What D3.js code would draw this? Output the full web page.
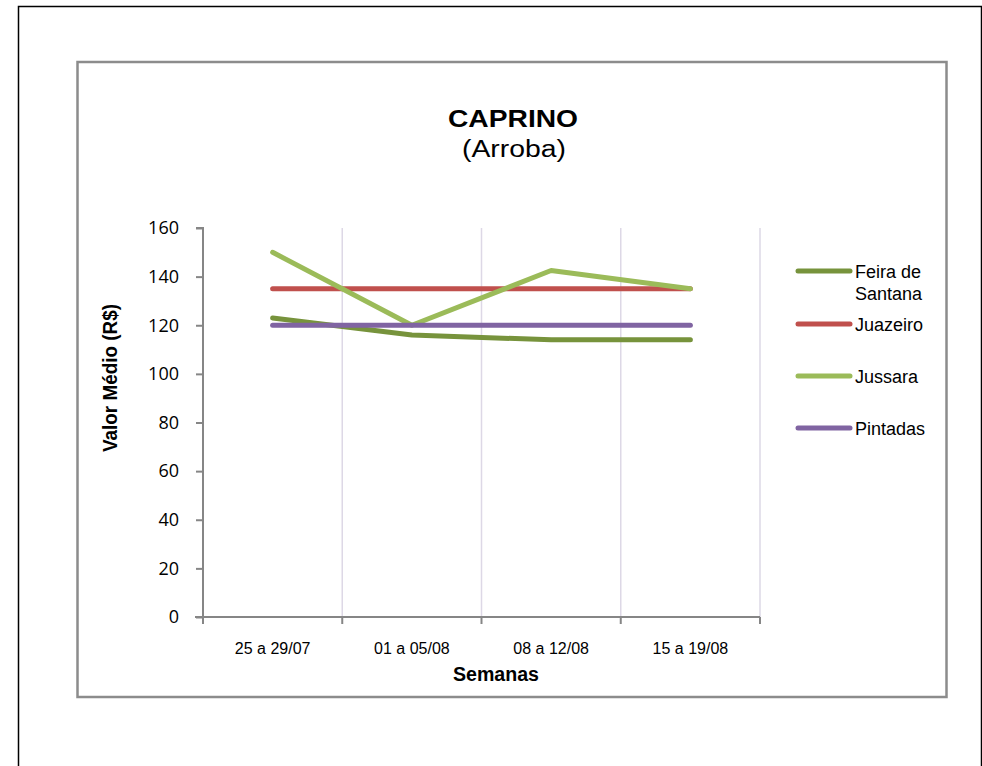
<!DOCTYPE html>
<html>
<head>
<meta charset="utf-8">
<script src="https://cdn.jsdelivr.net/npm/d3@7"></script>
<style>
  body { margin: 0; background: #fff; }
  svg { display: block; font-family: "Liberation Sans", Arial, sans-serif; }
</style>
</head>
<body>
<svg id="chart" width="982" height="766"></svg>
<script>
// data
let semanas = ['25 a 29/07', '01 a 05/08', '08 a 12/08', '15 a 19/08'];
let feira = [123, 116, 114, 114];
let juazeiro = [135, 135, 135, 135];
let jussara = [150, 120, 142.5, 135];
let pintadas = [120, 120, 120, 120];
let yTicks = [0, 20, 40, 60, 80, 100, 120, 140, 160];

let series = [
  {name: ['Feira de', 'Santana'], values: feira, color: '#77933c'},
  {name: ['Juazeiro'], values: juazeiro, color: '#c0504d'},
  {name: ['Jussara'], values: jussara, color: '#9bbb59'},
  {name: ['Pintadas'], values: pintadas, color: '#8064a2'}
];

let svg = d3.select('#chart');

// page frame and chart frame
svg.append('rect')
  .attr('x', 18.5).attr('y', 6.5)
  .attr('width', 963).attr('height', 780)
  .attr('fill', 'none').attr('stroke', '#000').attr('stroke-width', 1.5);

svg.append('rect')
  .attr('x', 77.5).attr('y', 62)
  .attr('width', 869).attr('height', 635)
  .attr('fill', '#fff').attr('stroke', '#8c8c8c').attr('stroke-width', 2.5);

let x = d3.scaleBand().domain(semanas).range([203, 760]).padding(0);
let y = d3.scaleLinear().domain([0, 160]).range([617, 228]);

// vertical gridlines at category boundaries
svg.append('g')
  .selectAll('line')
  .data([1, 2, 3, 4])
  .enter()
  .append('line')
  .attr('x1', d => x.range()[0] + d * x.bandwidth())
  .attr('x2', d => x.range()[0] + d * x.bandwidth())
  .attr('y1', y(160)).attr('y2', y(0))
  .attr('stroke', '#ddd8e6').attr('stroke-width', 1.5);

// y axis
let yAxis = svg.append('g')
  .attr('transform', `translate(${x.range()[0]},0)`)
  .call(d3.axisLeft(y).tickValues(yTicks).tickSize(7).tickPadding(17));
yAxis.select('.domain').attr('stroke', '#868686').attr('stroke-width', 2).attr('d', `M-7,${y(160)}H0V${y(0)}`);
yAxis.selectAll('.tick line').attr('stroke', '#868686').attr('stroke-width', 2);
yAxis.selectAll('.tick text')
  .attr('font-family', '"Open Sans", "Liberation Sans", sans-serif')
  .attr('font-size', 18).attr('fill', '#000');

// x axis
let xAxis = svg.append('g')
  .attr('transform', `translate(0,${y(0)})`)
  .call(d3.axisBottom(x).tickSize(0).tickPadding(26));
xAxis.select('.domain').attr('stroke', '#868686').attr('stroke-width', 2).attr('d', `M195,0H${x.range()[1]}`);
xAxis.selectAll('.tick text')
  .attr('font-family', '"Liberation Sans", Arial, sans-serif')
  .attr('font-size', 16).attr('fill', '#000');

svg.append('g')
  .selectAll('line')
  .data([0, 1, 2, 3, 4])
  .enter()
  .append('line')
  .attr('x1', d => x.range()[0] + d * x.bandwidth())
  .attr('x2', d => x.range()[0] + d * x.bandwidth())
  .attr('y1', y(0)).attr('y2', y(0) + 7)
  .attr('stroke', '#868686').attr('stroke-width', 2);

// lines
let line = d3.line()
  .x((d, i) => x(semanas[i]) + x.bandwidth() / 2)
  .y(d => y(d));

svg.append('g')
  .selectAll('path')
  .data(series)
  .enter()
  .append('path')
  .attr('d', d => line(d.values))
  .attr('fill', 'none')
  .attr('stroke', d => d.color)
  .attr('stroke-width', 5)
  .attr('stroke-linecap', 'round')
  .attr('stroke-linejoin', 'round');

// titles
svg.append('text')
  .attr('x', 513).attr('y', 127)
  .attr('text-anchor', 'middle')
  .attr('font-size', 24).attr('font-weight', 'bold')
  .attr('textLength', 130).attr('lengthAdjust', 'spacingAndGlyphs')
  .text('CAPRINO');
svg.append('text')
  .attr('x', 514).attr('y', 157)
  .attr('text-anchor', 'middle')
  .attr('font-size', 23)
  .attr('textLength', 104).attr('lengthAdjust', 'spacingAndGlyphs')
  .text('(Arroba)');

svg.append('text')
  .attr('transform', 'translate(117,378) rotate(-90)')
  .attr('text-anchor', 'middle')
  .attr('font-size', 20).attr('font-weight', 'bold')
  .attr('textLength', 148).attr('lengthAdjust', 'spacingAndGlyphs')
  .text('Valor Médio (R$)');

svg.append('text')
  .attr('x', 496).attr('y', 681)
  .attr('text-anchor', 'middle')
  .attr('font-size', 20).attr('font-weight', 'bold')
  .attr('textLength', 86).attr('lengthAdjust', 'spacingAndGlyphs')
  .text('Semanas');

// legend
let legendY = [271, 324, 376, 428];
let legend = svg.append('g')
  .selectAll('g')
  .data(series)
  .enter()
  .append('g')
  .attr('transform', (d, i) => `translate(0,${legendY[i]})`);

legend.append('line')
  .attr('x1', 798).attr('x2', 850)
  .attr('y1', 0).attr('y2', 0)
  .attr('stroke', d => d.color)
  .attr('stroke-width', 5)
  .attr('stroke-linecap', 'round');

legend.append('text')
  .attr('x', 855).attr('y', 7)
  .attr('font-size', 18)
  .selectAll('tspan')
  .data(d => d.name)
  .enter()
  .append('tspan')
  .attr('x', 855)
  .attr('dy', (d, i) => i === 0 ? 0 : 22)
  .text(d => d);
</script>
</body>
</html>
